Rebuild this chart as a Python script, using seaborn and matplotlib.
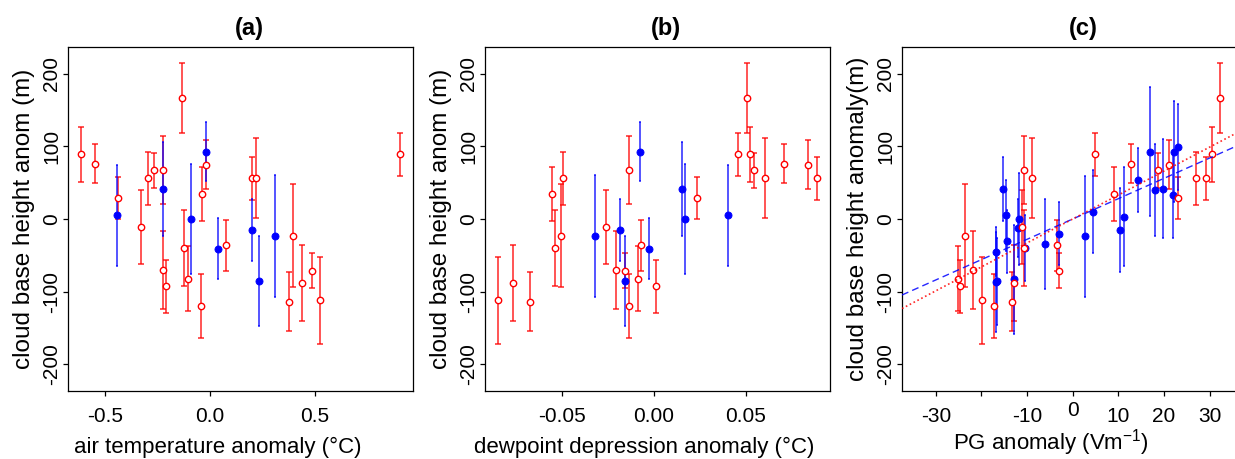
import numpy as np
import pandas as pd
import matplotlib
matplotlib.use("Agg")
import matplotlib.pyplot as plt
import matplotlib.transforms as mtransforms
import seaborn as sns

# ---------------- data ----------------
# red (open circles): cloud base height anomaly (m) and its error
red_cbh = [89, 76, 29, -11, 56, 67, 67, -70, -93, 167, -40, -82, -120, 34, 75,
           -36, 56, 57, -23, -114, -88, -71, -112, 89]
red_err = [38, 27, 29, 51, 37, 24, 47, 54, 37, 48, 53, 45, 44, 37, 34,
           35, 30, 55, 71, 41, 52, 24, 60, 30]
red_temp = [-0.613, -0.548, -0.438, -0.330, -0.294, -0.268, -0.224, -0.221, -0.208,
            -0.132, -0.121, -0.105, -0.041, -0.038, -0.017, 0.075, 0.200, 0.219,
            0.397, 0.375, 0.441, 0.489, 0.527, 0.908]
red_dpd = [0.0525, 0.0709, 0.0235, -0.0260, -0.0499, 0.0545, -0.0138, -0.0206, 0.0011,
           0.0505, -0.0539, -0.0089, -0.0138, -0.0554, 0.0838, -0.0069, 0.0889, 0.0608,
           -0.0510, -0.0674, -0.0769, -0.0157, -0.0852, 0.0459]
red_pg = [30.6, 12.8, 23.0, -11.2, 27.0, 18.8, -10.6, -21.8, -24.7, 32.2, -10.7, -25.2,
          -17.2, 9.1, 21.0, -3.4, 29.3, -9.0, -23.6, -13.4, -12.8, -3.1, -19.8, 5.0]

# blue (filled circles), panels (a) and (b)
blue_cbh = [5, 41, 0, 93, -41, -15, -85, -24]
blue_err = [70, 65, 76, 41, 42, 43, 62, 84]
blue_temp = [-0.441, -0.221, -0.089, -0.017, 0.041, 0.203, 0.232, 0.311]
blue_dpd = [0.0404, 0.0155, 0.0168, -0.0075, -0.0029, -0.0184, -0.0157, -0.0324]

# blue (filled circles), panel (c)
blue_pg = [-15.3, -14.7, -14.5, -16.7, -16.9, -16.6, -12.8, -11.8, -12.0, -10.4, -6.0,
           -2.9, 2.7, 4.5, 10.4, 11.3, 14.3, 17.0, 18.0, 19.7, 21.9, 22.1, 23.1]
blue_pg_cbh = [41, 5, -31, -45, -87, -86, -83, 0, -12, -40, -34, -20, -24, 10, -15, 3,
               54, 93, 40, 42, 33, 93, 99]
blue_pg_err = [44, 49, 43, 34, 69, 60, 75, 64, 40, 46, 62, 44, 83, 57, 58, 68, 44, 89,
               63, 68, 59, 69, 59]

# regression lines in panel (c): (slope, intercept)
fit_blue = (2.80, 0.0)
fit_red = (3.30, 0.0)

y_ticks = [-200, -100, 0, 100, 200]
temp_ticks = [-0.5, 0.0, 0.5]
temp_labels = ["-0.5", "0.0", "0.5"]
dpd_ticks = [-0.05, 0.0, 0.05]
dpd_labels = ["-0.05", "0.00", "0.05"]
pg_ticks = [-30, -20, -10, 0, 10, 20, 30]
pg_labels = ["-30", "", "-10", "0", "10", "20", "30"]

titles = ["(a)", "(b)", "(c)"]
xlabels = ["air temperature anomaly (°C)", "dewpoint depression anomaly (°C)",
           r"PG anomaly (Vm$^{-1}$)"]
ylabels = ["cloud base height anom (m)", "cloud base height anom (m)",
           "cloud base height anomaly(m)"]

# ---------------- style ----------------
sns.set_theme(style="white")
plt.rcParams['font.family'] = ['Liberation Sans', 'DejaVu Sans']
plt.rcParams['axes.unicode_minus'] = False
plt.rcParams['text.color'] = 'black'
plt.rcParams['axes.labelcolor'] = 'black'
plt.rcParams['xtick.color'] = 'black'
plt.rcParams['ytick.color'] = 'black'
plt.rcParams['mathtext.fontset'] = 'custom'
plt.rcParams['mathtext.rm'] = 'Liberation Sans'
plt.rcParams['mathtext.it'] = 'Liberation Sans:italic'
plt.rcParams['mathtext.bf'] = 'Liberation Sans:bold'

RED = '#FF0000'
BLUE = '#0000FF'
TICK_FS = 15
XLAB_FS = 16
YLAB_FS = 17.5
XPAD = 8

W, H = 1235, 459
fig = plt.figure(figsize=(W / 100, H / 100), dpi=100)


def add_ax(left_px, width_px=345, top_px=47, bottom_px=391):
    return fig.add_axes([left_px / W, 1 - bottom_px / H, width_px / W,
                         (bottom_px - top_px) / H])


def draw_panel(ax, rx, ry, re, bx, by, be):
    ax.errorbar(rx, ry, yerr=re, fmt='none', ecolor=RED, elinewidth=1.1,
                capsize=2.3, capthick=1.1, alpha=0.85, zorder=2)
    ax.errorbar(bx, by, yerr=be, fmt='none', ecolor=BLUE, elinewidth=1.1,
                capsize=0.7, capthick=1.1, alpha=0.85, zorder=3)
    sns.scatterplot(x=bx, y=by, ax=ax, color=BLUE, edgecolor=BLUE, marker='o',
                    s=26, linewidth=0.6, zorder=4, legend=False)
    sns.scatterplot(x=rx, y=ry, ax=ax, color='white', edgecolor=RED, marker='o',
                    s=21, linewidth=1.0, zorder=5, legend=False)


def style_axes(ax, title, xlabel, ylabel, xlab_x, xlab_y):
    for sp in ax.spines.values():
        sp.set_color('black')
        sp.set_linewidth(0.9)
    ax.tick_params(axis='both', which='both', direction='out', length=3.6,
                   width=0.9, color='black', labelsize=TICK_FS, labelcolor='black',
                   left=True, bottom=True, top=False, right=False)
    ax.tick_params(axis='x', pad=XPAD)
    ax.tick_params(axis='y', pad=1.5)
    ax.set_ylim(-237, 237)
    ax.set_yticks(y_ticks, labels=[str(v) for v in y_ticks], rotation=90, va='center')
    ax.set_title(title, fontsize=17, fontweight='bold', pad=9, x=0.525, color='black')
    ax.set_xlabel(xlabel, fontsize=XLAB_FS)
    ax.set_ylabel(ylabel, fontsize=YLAB_FS)
    ax.xaxis.set_label_coords(xlab_x, xlab_y)
    ax.yaxis.set_label_coords(-0.095, 0.5)
    ax.grid(False)


ax_a = add_ax(68)
ax_b = add_ax(485)
ax_c = add_ax(902)

# panel (a)
draw_panel(ax_a, red_temp, red_cbh, red_err, blue_temp, blue_cbh, blue_err)
ax_a.set_xlim(-0.676, 0.968)
ax_a.set_xticks(temp_ticks, labels=temp_labels)
style_axes(ax_a, titles[0], xlabels[0], ylabels[0], 0.435, -0.134)

# panel (b)
draw_panel(ax_b, red_dpd, red_cbh, red_err, blue_dpd, blue_cbh, blue_err)
ax_b.set_xlim(-0.0922, 0.096)
ax_b.set_xticks(dpd_ticks, labels=dpd_labels)
style_axes(ax_b, titles[1], xlabels[1], ylabels[1], 0.46, -0.134)

# panel (c)
draw_panel(ax_c, red_pg, red_cbh, red_err, blue_pg, blue_pg_cbh, blue_pg_err)
ax_c.axline((0, fit_blue[1]), slope=fit_blue[0], color=BLUE, lw=1.0,
            ls=(0, (5, 3)), alpha=0.85, zorder=6)
ax_c.axline((0, fit_red[1]), slope=fit_red[0], color=RED, lw=1.2,
            ls=(0, (1, 1.6)), alpha=0.85, zorder=6)
ax_c.set_xlim(-37.4, 38.2)
ax_c.set_xticks(pg_ticks, labels=[("" if l == "0" else l) for l in pg_labels])
style_axes(ax_c, titles[2], xlabels[2], ylabels[2], 0.432, -0.106)
# the "0" label sits slightly higher than the others in the reference
zero_tf = mtransforms.offset_copy(
    mtransforms.blended_transform_factory(ax_c.transData, ax_c.transAxes),
    fig=fig, x=0, y=-(3.6 + XPAD - 4.3), units='points')
for t, l in zip(pg_ticks, pg_labels):
    if l == "0":
        ax_c.text(t, 0, l, transform=zero_tf, ha='center', va='top',
                  fontsize=TICK_FS, color='black')

fig.savefig("out.png", dpi=100)
